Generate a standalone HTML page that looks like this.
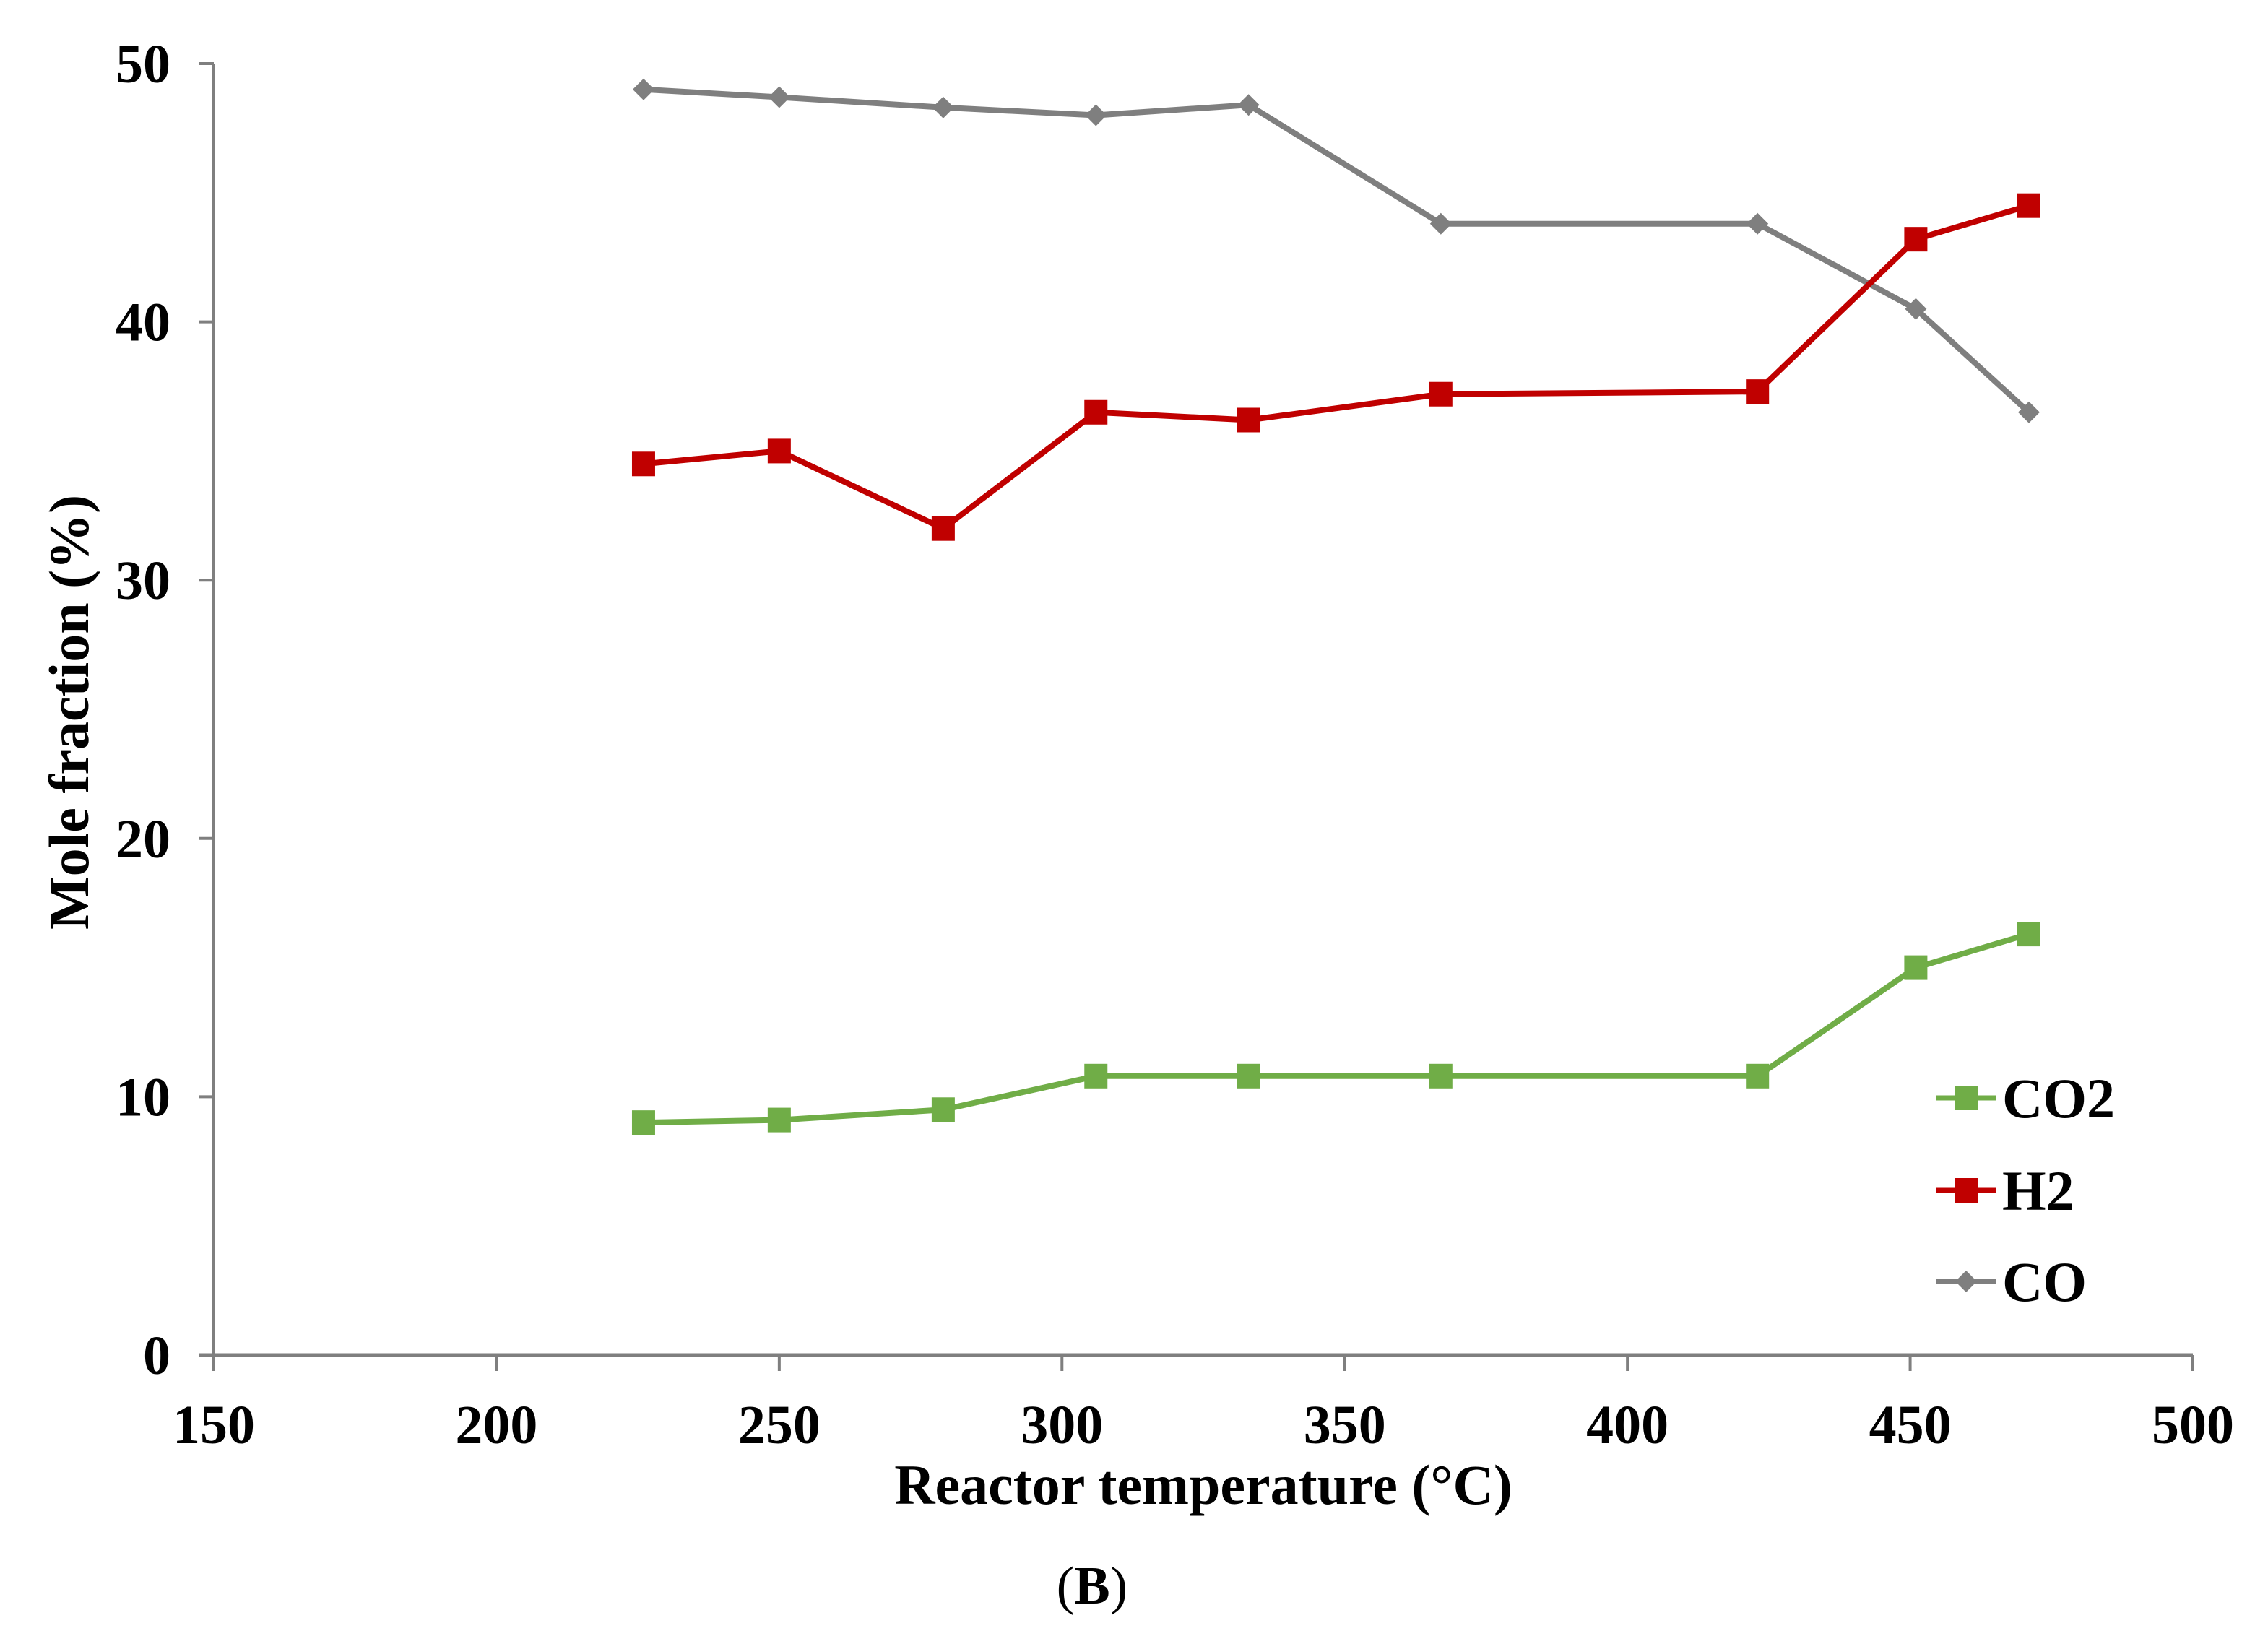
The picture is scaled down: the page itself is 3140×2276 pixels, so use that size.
<!DOCTYPE html>
<html><head><meta charset="utf-8"><style>
html,body{margin:0;padding:0;background:#fff;}
svg{display:block;}
text{font-family:"Liberation Serif",serif;font-weight:bold;fill:#000;}
</style></head><body>
<svg id="chart" width="3140" height="2276" viewBox="0 0 3140 2276" xmlns="http://www.w3.org/2000/svg">
<g id="axes"></g>
<g id="series"></g>
<g id="legend"></g>
<text x="1666" y="2082" font-size="78" text-anchor="middle">Reactor temperature (°C)</text>
<text transform="translate(122,986) rotate(-90)" font-size="78" text-anchor="middle">Mole fraction (%)</text>
<text x="1512" y="2220" font-size="74" text-anchor="middle"><tspan font-weight="normal">(</tspan>B<tspan font-weight="normal">)</tspan></text>
</svg>
<script>
const temps = [226, 250, 279, 306, 333, 367, 423, 451, 471];
const coValues = [49.0, 48.7, 48.3, 48.0, 48.4, 43.8, 43.8, 40.5, 36.5];
const h2Values = [34.5, 35.0, 32.0, 36.5, 36.2, 37.2, 37.3, 43.2, 44.5];
const co2Values = [9.0, 9.1, 9.5, 10.8, 10.8, 10.8, 10.8, 15.0, 16.3];
const xTicks = [150, 200, 250, 300, 350, 400, 450, 500];
const yTicks = [0, 10, 20, 30, 40, 50];
const seriesNames = ["CO2", "H2", "CO"];

const NS = "http://www.w3.org/2000/svg";
const X0 = 296, X1 = 3036, Y0 = 1876, Y1 = 88;
function xs(v){ return X0 + (v - 150) / 350 * (X1 - X0); }
function ys(v){ return Y0 - v / 50 * (Y0 - Y1); }
function mk(tag, attrs, parent){ const e = document.createElementNS(NS, tag); for (const k in attrs) e.setAttribute(k, attrs[k]); parent.appendChild(e); return e; }

const axes = document.getElementById('axes');
const ya = mk('line', {x1:X0, y1:Y1, x2:X0, y2:Y0, stroke:'#7f7f7f', 'stroke-width':4}, axes);


const xa = mk('line', {x1:X0-20, y1:Y0, x2:X1, y2:Y0, stroke:'#7f7f7f', 'stroke-width':5}, axes);


yTicks.forEach(t => {
  const l = mk('line', {x1:X0-20, y1:ys(t), x2:X0, y2:ys(t), stroke:'#7f7f7f', 'stroke-width':4}, axes);
  
  
  const tx = mk('text', {x:236, y:ys(t)+26, 'font-size':76, 'text-anchor':'end'}, axes);
  tx.textContent = t;
  
  
});
xTicks.forEach(t => {
  const l = mk('line', {x1:xs(t), y1:Y0, x2:xs(t), y2:Y0+22, stroke:'#7f7f7f', 'stroke-width':4}, axes);
  
  
  const tx = mk('text', {x:xs(t), y:1998, 'font-size':76, 'text-anchor':'middle'}, axes);
  tx.textContent = t;
  
  
});

const sg = document.getElementById('series');
const colors = {CO2:'#70ad47', H2:'#c00000', CO:'#7f7f7f'};
function marker(parent, cx, cy, name){
  let m;
  if (name === 'CO') {
    m = mk('polygon', {points:`${cx},${cy-15} ${cx+15},${cy} ${cx},${cy+15} ${cx-15},${cy}`, fill:colors[name]}, parent);
  } else {
    m = mk('rect', {x:cx-16, y:cy-17, width:32, height:34, fill:colors[name]}, parent);
  }
  return m;
}
function drawSeries(name, vals){
  const g = mk('g', {}, sg);
  
  
  const pts = temps.map((t,i) => xs(t) + ',' + ys(vals[i])).join(' ');
  const pl = mk('polyline', {points:pts, fill:'none', stroke:colors[name], 'stroke-width':8, 'stroke-linejoin':'round'}, g);
  
  
  temps.forEach((t,i) => {
    const m = marker(g, xs(t), ys(vals[i]), name);
    
    
  });
}
drawSeries('CO', coValues);
drawSeries('H2', h2Values);
drawSeries('CO2', co2Values);

const lg = document.getElementById('legend');
const legendY = [1520, 1648, 1774];
seriesNames.forEach((n, i) => {
  const g = mk('g', {}, lg);
  
  
  const y = legendY[i];
  mk('line', {x1:2680, y1:y, x2:2764, y2:y, stroke:colors[n], 'stroke-width':7}, g);
  marker(g, 2722, y, n);
  const tx = mk('text', {x:2772, y:y+27, 'font-size':78}, g);
  tx.textContent = n;
});
</script>
</body></html>
